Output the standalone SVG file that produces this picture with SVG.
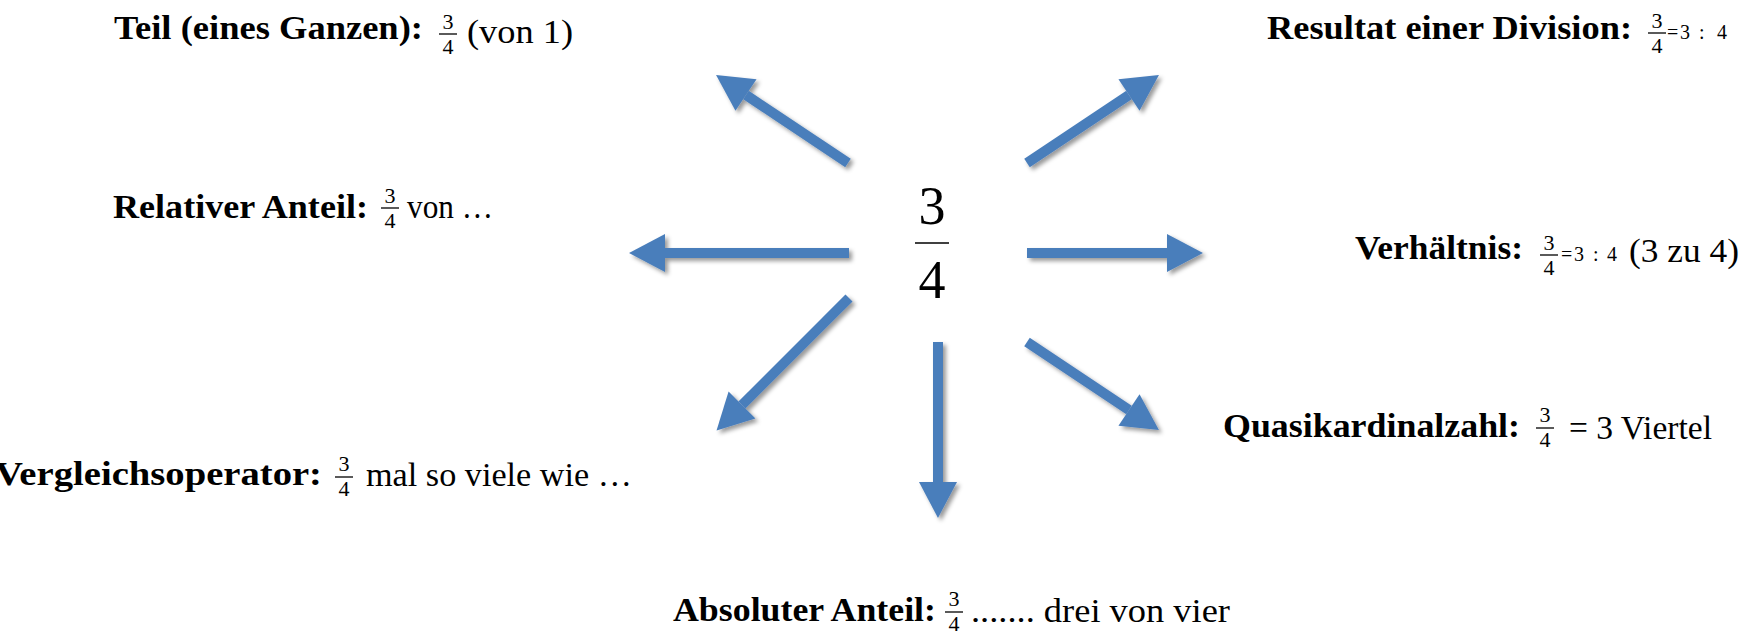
<svg xmlns="http://www.w3.org/2000/svg" width="1750" height="636" viewBox="0 0 1750 636">
  <style>
    .lbl { font-family: "Liberation Serif", serif; font-weight: bold; font-size: 33px; fill: #000; }
    .txt { font-family: "Liberation Serif", serif; font-size: 33px; fill: #000; }
    .fr  { font-family: "Liberation Serif", serif; font-size: 22px; fill: #000; text-anchor: middle; }
    .eq  { font-family: "Liberation Serif", serif; font-size: 20px; fill: #000; }
    .big { font-family: "Liberation Serif", serif; font-size: 54px; fill: #000; text-anchor: middle; }
    .bar { stroke: #000; stroke-width: 1.3; }
    .arrow { stroke: #4a7ebb; stroke-width: 10; fill: none; marker-end: url(#head); }
  </style>
  <defs>
    <marker id="head" viewBox="0 -20 40 40" refX="0" refY="0" markerWidth="40" markerHeight="40" markerUnits="userSpaceOnUse" orient="auto" overflow="visible">
      <path d="M0,-19 L36,0 L0,19 Z" fill="#4a7ebb"/>
    </marker>
    <filter id="shadow" x="-20%" y="-20%" width="140%" height="140%">
      <feDropShadow dx="3" dy="3" stdDeviation="2" flood-color="#000" flood-opacity="0.4"/>
    </filter>
  </defs>
  <rect width="1750" height="636" fill="#fff"/>

  <!-- central fraction -->
  <g id="center">
    <text class="big" x="932" y="224">3</text>
    <line class="bar" x1="915" y1="243" x2="949" y2="243"/>
    <text class="big" x="932" y="298">4</text>
  </g>

  <!-- connectors: seven block arrows radiating from the centre -->
  <g id="connectors" filter="url(#shadow)">
    <line class="arrow" x1="848" y1="163" x2="746" y2="95"/>
    <line class="arrow" x1="1027" y1="163" x2="1129" y2="95"/>
    <line class="arrow" x1="849" y1="253" x2="665" y2="253"/>
    <line class="arrow" x1="1027" y1="253" x2="1167" y2="253"/>
    <line class="arrow" x1="849" y1="298" x2="742" y2="405"/>
    <line class="arrow" x1="938" y1="342" x2="938" y2="482"/>
    <line class="arrow" x1="1027" y1="342" x2="1129" y2="410"/>
  </g>

  <g id="teil">
    <text class="lbl" x="114" y="39" textLength="309" lengthAdjust="spacingAndGlyphs">Teil (eines Ganzen):</text>
    <text class="fr" x="448" y="29">3</text>
    <line class="bar" x1="439" y1="34" x2="457" y2="34"/>
    <text class="fr" x="448" y="54">4</text>
    <text class="txt" x="467" y="43" textLength="106" lengthAdjust="spacingAndGlyphs">(von 1)</text>
  </g>

  <g id="resultat">
    <text class="lbl" x="1267" y="39" textLength="365" lengthAdjust="spacingAndGlyphs">Resultat einer Division:</text>
    <text class="fr" x="1657" y="28">3</text>
    <line class="bar" x1="1648" y1="33" x2="1666" y2="33"/>
    <text class="fr" x="1657" y="53">4</text>
    <text class="eq" x="1667 1680 1699 1717" y="39">=3:4</text>
  </g>

  <g id="relativ">
    <text class="lbl" x="113" y="218" textLength="255" lengthAdjust="spacingAndGlyphs">Relativer Anteil:</text>
    <text class="fr" x="390" y="203">3</text>
    <line class="bar" x1="381" y1="208" x2="399" y2="208"/>
    <text class="fr" x="390" y="228">4</text>
    <text class="txt" x="407" y="218" textLength="86" lengthAdjust="spacingAndGlyphs">von …</text>
  </g>

  <g id="verhaeltnis">
    <text class="lbl" x="1355" y="259" textLength="168" lengthAdjust="spacingAndGlyphs">Verhältnis:</text>
    <text class="fr" x="1549" y="250">3</text>
    <line class="bar" x1="1540" y1="255" x2="1558" y2="255"/>
    <text class="fr" x="1549" y="275">4</text>
    <text class="eq" x="1561 1574 1593 1607" y="261">=3:4</text>
    <text class="txt" x="1629" y="262" textLength="110" lengthAdjust="spacingAndGlyphs">(3 zu 4)</text>
  </g>

  <g id="quasikardinal">
    <text class="lbl" x="1223" y="437" textLength="297" lengthAdjust="spacingAndGlyphs">Quasikardinalzahl:</text>
    <text class="fr" x="1545" y="422">3</text>
    <line class="bar" x1="1536" y1="428" x2="1554" y2="428"/>
    <text class="fr" x="1545" y="447">4</text>
    <text class="txt" x="1569" y="439" textLength="143" lengthAdjust="spacingAndGlyphs">= 3 Viertel</text>
  </g>

  <g id="vergleich">
    <text class="lbl" x="-5" y="485" textLength="327" lengthAdjust="spacingAndGlyphs">Vergleichsoperator:</text>
    <text class="fr" x="344" y="471">3</text>
    <line class="bar" x1="335" y1="477" x2="353" y2="477"/>
    <text class="fr" x="344" y="496">4</text>
    <text class="txt" x="366" y="486" textLength="266" lengthAdjust="spacingAndGlyphs">mal so viele wie …</text>
  </g>

  <g id="absolut">
    <text class="lbl" x="673" y="621" textLength="263" lengthAdjust="spacingAndGlyphs">Absoluter Anteil:</text>
    <text class="fr" x="954" y="606">3</text>
    <line class="bar" x1="945" y1="612" x2="963" y2="612"/>
    <text class="fr" x="954" y="631">4</text>
    <text class="txt" x="971" y="622" textLength="259" lengthAdjust="spacingAndGlyphs">....... drei von vier</text>
  </g>
</svg>
